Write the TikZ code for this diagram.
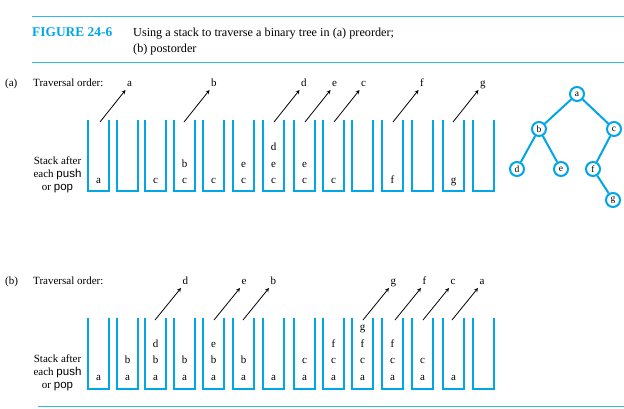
\documentclass[tikz,border=0pt]{standalone}
\usepackage{fontspec}
\setmainfont{Liberation Serif}
\newfontfamily\sansf{Liberation Sans}
\usetikzlibrary{arrows}
\definecolor{stackblue}{RGB}{0,166,230}
\tikzset{
  stk/.style={stackblue, line width=2.2pt, line join=miter},
  elt/.style={font=\fontsize{11}{13}\selectfont, inner sep=0pt, anchor=base},
  lbl/.style={font=\fontsize{11}{13}\selectfont, inner xsep=1.5pt, inner ysep=3pt, text depth=0pt, anchor=south west},
  arr/.style={->, line width=0.8pt},
  tnode/.style={circle, draw=stackblue, line width=2pt, minimum size=14pt, inner sep=0pt, font=\fontsize{9.5}{10}\selectfont},
  tedge/.style={stackblue, line width=2pt},
  rule/.style={stackblue!80, line width=1pt},
  txt/.style={font=\fontsize{11}{13}\selectfont, inner sep=0pt, anchor=base west},
}
\begin{document}
\begin{tikzpicture}[>=stealth, x=1pt, y=-1pt]
\useasboundingbox (0,0) rectangle (624,408);
% caption
\coordinate (r1l) at (32,16);
\coordinate (r1r) at (624,16);
\coordinate (r2l) at (32,62);
\coordinate (r2r) at (624,62);
\coordinate (r3l) at (38,406);
\coordinate (r3r) at (624,406);
\draw[rule] (r1l) -- (r1r);
\draw[rule] (r2l) -- (r2r);
\draw[rule] (r3l) -- (r3r);
\node[inner sep=0pt, anchor=base west, text=stackblue, font=\fontsize{13.4}{16}\selectfont\bfseries] (fig) at (32,36) {FIGURE 24-6};
% base of a two-line node is its last line
\node[inner sep=0pt, anchor=base west, align=left, font=\fontsize{12.2}{16}\selectfont] (cap) at (133,52)
  {Using a stack to traverse a binary tree in (a) preorder;\\(b) postorder};
% (a) preorder
\node[txt] (pa) at (5,86.5) {(a)};
\node[txt] (oa) at (33,86.5) {Traversal order:};
\node[txt, anchor=base, align=center] (ka) at (57.5,190.5) {Stack after\\each {\sansf\fontsize{11.5}{13}\selectfont push}\\or {\sansf\fontsize{11.5}{13}\selectfont pop}};
\foreach \xl/\s [count=\i] in {88/{a},117/{},145/{c},174/{c,b},203/{c},233/{c,e},263/{c,e,d},
    294/{c,e},323/{c},352/{},382/{f},412/{},443/{g},473/{}}{
  \draw[stk] (\xl,120) -- (\xl,191) -- (\xl+21,191) -- (\xl+21,120);
  \foreach \l [count=\j from 0] in \s
    \node[elt] (ea-\i-\j) at (\xl+10.5,{183.5-16.5*\j}) {\l};
}
\foreach \x/\l [count=\k] in {100/a,184/b,274/d,305/e,334/c,393/f,453/g}{
  \coordinate (sa-\k) at (\x,122);
  \node[lbl] (ta-\k) at (\x+25.5,90) {\l};
  \draw[arr] (sa-\k) -- (ta-\k.south west);
}
% tree
\node[tnode] (na) at (577,94) {a};
\node[tnode] (nb) at (539,129) {b};
\node[tnode] (nc) at (614,129) {c};
\node[tnode] (nd) at (517,169) {d};
\node[tnode] (ne) at (561,169) {e};
\node[tnode] (nf) at (593,169) {f};
\node[tnode] (ng) at (613,200) {g};
\draw[tedge] (na) -- (nb);
\draw[tedge] (na) -- (nc);
\draw[tedge] (nb) -- (nd);
\draw[tedge] (nb) -- (ne);
\draw[tedge] (nc) -- (nf);
\draw[tedge] (nf) -- (ng);
% (b) postorder
\node[txt] (pb) at (5,284.5) {(b)};
\node[txt] (ob) at (33,284.5) {Traversal order:};
\node[txt, anchor=base, align=center] (kb) at (57.5,388.5) {Stack after\\each {\sansf\fontsize{11.5}{13}\selectfont push}\\or {\sansf\fontsize{11.5}{13}\selectfont pop}};
\foreach \xl/\s [count=\i] in {88/{a},117/{a,b},145/{a,b,d},174/{a,b},203/{a,b,e},233/{a,b},263/{a},
    294/{a,c},323/{a,c,f},352/{a,c,f,g},382/{a,c,f},412/{a,c},443/{a},473/{}}{
  \draw[stk] (\xl,318) -- (\xl,389) -- (\xl+21,389) -- (\xl+21,318);
  \foreach \l [count=\j from 0] in \s
    \node[elt] (eb-\i-\j) at (\xl+10.5,{380.5-16.7*\j}) {\l};
}
\foreach \x/\l [count=\k] in {155/d,214/e,243/b,363/g,395/f,423/c,452/a}{
  \coordinate (sb-\k) at (\x,320);
  \node[lbl] (tb-\k) at (\x+26,288) {\l};
  \draw[arr] (sb-\k) -- (tb-\k.south west);
}
\end{tikzpicture}
\end{document}
